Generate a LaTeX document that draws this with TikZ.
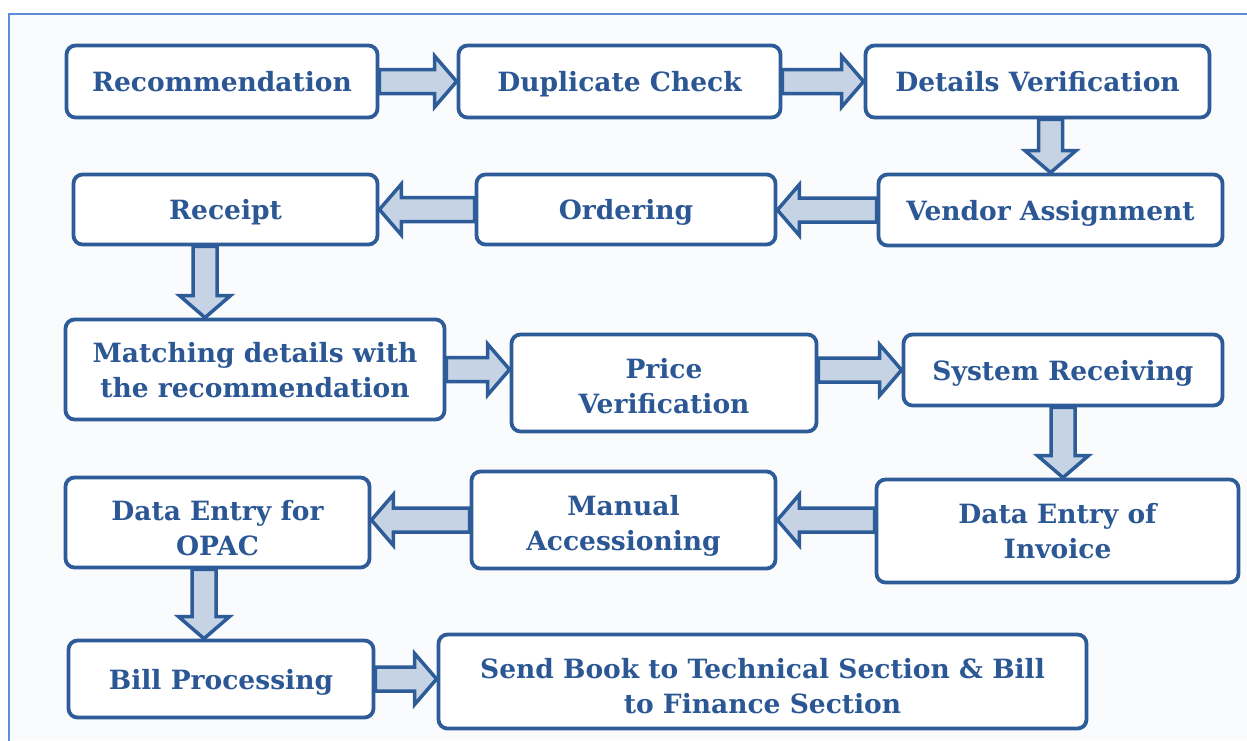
\documentclass[tikz,border=0pt]{standalone}
\usepackage{fontspec}
\setmainfont{DejaVu Serif}
\usetikzlibrary{calc}
\definecolor{boxblue}{HTML}{2D5C98}
\definecolor{txtblue}{HTML}{2B5794}
\definecolor{arrfill}{HTML}{C5D3E5}
\definecolor{framecol}{HTML}{5C8FD8}
\definecolor{bgcol}{HTML}{FAFBFD}
\tikzset{
  box/.style={draw=boxblue, line width=3.8pt, rounded corners=9pt, fill=white,
    text=txtblue, font=\bfseries\fontsize{26.5}{35}\selectfont, align=center, inner sep=0pt,
    text depth=0pt},
  barrow/.style={draw=boxblue, fill=arrfill, line width=3.5pt, line join=miter},
}
\newcommand\blockarrow[2]{%
  \path (#1) coordinate (baS) (#2) coordinate (baE);
  \path ($(baE)!22pt!(baS)$) coordinate (baH);
  \draw[barrow] ($(baS)!12pt!90:(baE)$) -- ($(baH)!12pt!-90:(baS)$) -- ($(baH)!25.5pt!-90:(baS)$)
    -- (baE) -- ($(baH)!25.5pt!90:(baS)$) -- ($(baH)!12pt!90:(baS)$) -- ($(baS)!12pt!-90:(baE)$) -- cycle;}
\begin{document}
\begin{tikzpicture}[x=1pt,y=-1pt]
\useasboundingbox (0,0) rectangle (1247,740);
\fill[white] (0,0) rectangle (1247,740);
\fill[bgcol] (9,14) rectangle (1247,740);
\draw[framecol, line width=2pt] (9,742) -- (9,14) -- (1249,14);

% row 1
\node[box, minimum width=311pt, minimum height=72pt] (rec) at (222,81.5) {Recommendation};
\node[box, minimum width=322pt, minimum height=72pt] (dup) at (619.5,81.5) {Duplicate Check};
\node[box, minimum width=344pt, minimum height=72pt] (det) at (1037.5,81.5) {Details Verification};
% row 2
\node[box, minimum width=304pt, minimum height=70pt] (rcp) at (225.5,209.5) {Receipt};
\node[box, minimum width=299pt, minimum height=70pt] (ord) at (626,209.5) {Ordering};
\node[box, minimum width=344pt, minimum height=71pt] (ven) at (1050.5,210) {Vendor Assignment};
% row 3
\node[box, minimum width=379pt, minimum height=100pt] (mat) at (255,369.5) {Matching details with\\the recommendation};
\node[box, minimum width=305pt, minimum height=97pt, text height=60pt] (prc) at (664,383) {Price\\Verification};
\node[box, minimum width=319pt, minimum height=71pt] (sys) at (1063,370) {System Receiving};
% row 4
\node[box, minimum width=304pt, minimum height=90pt, text height=66pt] (opc) at (217.5,522.5) {Data Entry for\\OPAC};
\node[box, minimum width=304pt, minimum height=97pt, text height=60pt] (man) at (623.5,520) {Manual\\Accessioning};
\node[box, minimum width=362pt, minimum height=103pt] (inv) at (1057.5,531) {Data Entry of\\Invoice};
% row 5
\node[box, minimum width=305pt, minimum height=77pt] (bil) at (221,679) {Bill Processing};
\node[box, minimum width=648pt, minimum height=94pt, text height=64pt] (snd) at (762.5,681.5) {Send Book to Technical Section \& Bill\\to Finance Section};

\coordinate (r6) at ([xshift=-20.5pt]rcp.south);
\coordinate (o12) at ([xshift=-13.5pt]opc.south);

\blockarrow{rec.east}{rec.east -| dup.west}
\blockarrow{dup.east}{dup.east -| det.west}
\blockarrow{ven.north |- det.south}{ven.north}
\blockarrow{ven.west}{ven.west -| ord.east}
\blockarrow{ord.west}{ord.west -| rcp.east}
\blockarrow{r6}{r6 |- mat.north}
\blockarrow{mat.east}{mat.east -| prc.west}
\blockarrow{prc.east |- sys.west}{sys.west}
\blockarrow{sys.south}{sys.south |- inv.north}
\blockarrow{man.east -| inv.west}{man.east}
\blockarrow{man.west}{man.west -| opc.east}
\blockarrow{o12}{o12 |- bil.north}
\blockarrow{bil.east}{bil.east -| snd.west}
\end{tikzpicture}
\end{document}
